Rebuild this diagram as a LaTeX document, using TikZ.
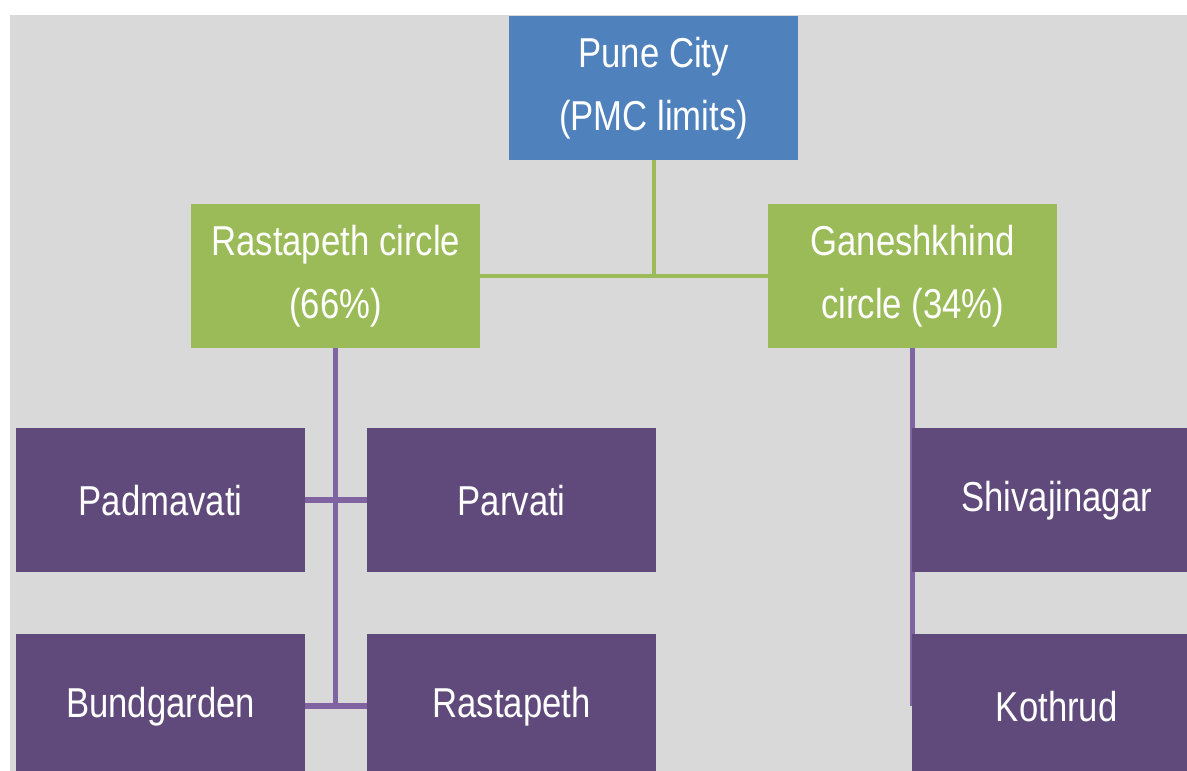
\documentclass[tikz,border=0pt]{standalone}
\usepackage{fontspec}
\setmainfont{Liberation Sans}[FakeStretch=0.83]
\definecolor{bgray}{HTML}{D9D9D9}
\definecolor{cblue}{HTML}{4F81BD}
\definecolor{cgreen}{HTML}{9BBB59}
\definecolor{cpurple}{HTML}{604A7B}
\definecolor{lpurple}{HTML}{8064A2}
\pgfdeclarelayer{bg}
\pgfsetlayers{bg,main}
\tikzset{
  box/.style={rectangle, inner sep=0pt, minimum width=289pt, minimum height=144pt, anchor=north west,
    text=white, align=center, font=\fontsize{41.8}{63}\selectfont},
  topbox/.style={box, fill=cblue},
  midbox/.style={box, fill=cgreen},
  leafbox/.style={box, fill=cpurple},
  gline/.style={draw=cgreen, line width=4pt},
  pline/.style={draw=lpurple, line width=5.5pt},
}
\begin{document}
\begin{tikzpicture}[x=1pt,y=-1pt]
\useasboundingbox (0,0) rectangle (1187,771);
\clip (0,0) rectangle (1187,771);
\node[topbox] (pune) at (509,16) {Pune City\\(PMC limits)};
\node[midbox] (rc) at (191,204) {Rastapeth circle\\(66\%)};
\node[midbox] (gc) at (768,204) {Ganeshkhind\\circle (34\%)};
\node[leafbox] (pad) at (16,428) {Padmavati};
\node[leafbox] (par) at (367,428) {Parvati};
\node[leafbox] (bund) at (16,634) {Bundgarden};
\node[leafbox] (rast) at (367,634) {Rastapeth};
\node[leafbox] (shiv) at (912,428) {Shivajinagar};
\node[leafbox] (koth) at (912,634) {Kothrud};
\begin{pgfonlayer}{bg}
\fill[bgray] (10,15) rectangle (1187,771);
\coordinate (gj) at (pune.south |- rc.east);
\draw[gline] (pune.south) -- (gj);
\draw[gline] (rc.east) -- (gc.west);
\draw[pline] (rc.south) -- (rc.south |- bund.east);
\draw[pline] (pad.east) -- (par.west);
\draw[pline] (bund.east) -- (rast.west);
\draw[pline] (gc.south) -- (gc.south |- koth.west);
\end{pgfonlayer}
\end{tikzpicture}
\end{document}
